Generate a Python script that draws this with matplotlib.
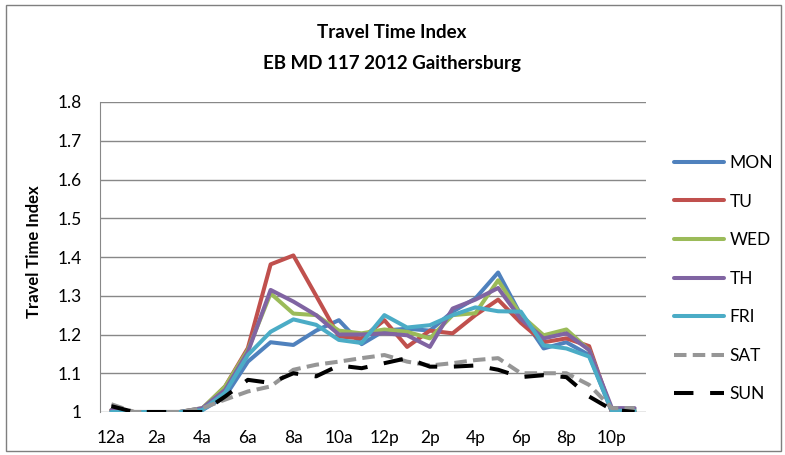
"""
Travel Time Index by hour of day, EB MD 117 2012 Gaithersburg.
Rough recreation of the Excel line chart with matplotlib.
"""

import numpy as np
import matplotlib
matplotlib.use("Agg")
import matplotlib.pyplot as plt
from matplotlib.patches import Rectangle


# ---- Data
hours = ["12a", "1a", "2a", "3a", "4a", "5a", "6a", "7a", "8a", "9a", "10a", "11a",
         "12p", "1p", "2p", "3p", "4p", "5p", "6p", "7p", "8p", "9p", "10p", "11p"]

mon = [1.00, 1.00, 1.00, 1.00, 1.005, 1.04, 1.13, 1.18, 1.173, 1.21, 1.237, 1.175,
       1.21, 1.215, 1.21, 1.259, 1.293, 1.36, 1.25, 1.164, 1.18, 1.147, 1.00, 1.00]
tu = [1.005, 1.00, 1.00, 1.00, 1.008, 1.066, 1.165, 1.381, 1.404, 1.30, 1.195, 1.19,
      1.237, 1.168, 1.21, 1.203, 1.25, 1.29, 1.23, 1.18, 1.19, 1.17, 1.00, 1.00]
wed = [1.005, 1.00, 1.00, 1.00, 1.01, 1.066, 1.16, 1.306, 1.254, 1.25, 1.21, 1.203,
       1.213, 1.207, 1.19, 1.25, 1.255, 1.34, 1.25, 1.198, 1.213, 1.16, 1.005, 1.005]
th = [1.005, 1.00, 1.00, 1.00, 1.01, 1.057, 1.155, 1.315, 1.285, 1.25, 1.20, 1.20,
      1.203, 1.198, 1.168, 1.267, 1.29, 1.32, 1.24, 1.19, 1.203, 1.16, 1.01, 1.01]
fri = [1.00, 1.00, 1.00, 1.00, 1.005, 1.05, 1.147, 1.207, 1.239, 1.225, 1.186, 1.178,
       1.25, 1.218, 1.224, 1.25, 1.27, 1.26, 1.259, 1.172, 1.164, 1.143, 1.003, 1.003]
sat = [1.02, 1.00, 1.00, 1.00, 1.01, 1.032, 1.053, 1.066, 1.109, 1.122, 1.13, 1.139,
       1.147, 1.13, 1.12, 1.126, 1.134, 1.139, 1.10, 1.10, 1.10, 1.07, 1.01, 1.01]
sun = [1.015, 1.00, 1.00, 1.00, 1.00, 1.04, 1.083, 1.075, 1.10, 1.092, 1.12, 1.113,
       1.126, 1.139, 1.117, 1.117, 1.12, 1.109, 1.09, 1.095, 1.09, 1.04, 1.006, 1.00]

days = ["MON", "TU", "WED", "TH", "FRI", "SAT", "SUN"]
values = [mon, tu, wed, th, fri, sat, sun]
colors = ["#4F81BD", "#C0504D", "#9BBB59", "#8064A2", "#4BACC6", "#969696", "#000000"]
styles = ["-", "-", "-", "-", "-", (0, (9, 4.5)), (0, (14, 12))]

ticks = list(range(0, 24, 2))
tick_labels = hours[::2][:12]


# ---- Plot
plt.rcParams["font.family"] = ["Lato", "DejaVu Sans"]
plt.rcParams["lines.scale_dashes"] = False

fig = plt.figure(figsize=(7.85, 4.55), dpi=100)
ax = fig.add_axes([100/785, 1 - 412/455, 546/785, 310/455])

x = np.arange(len(hours))
for d, v, c, s in zip(days, values, colors, styles):
    ax.plot(x, v, color=c, lw=2.9, linestyle=s, label=d,
            solid_capstyle="round", solid_joinstyle="round")

ax.set_xlim(-0.5, 23.5)
ax.set_ylim(1.0, 1.8)
ax.set_yticks(np.arange(1.0, 1.81, 0.1))
ax.set_yticklabels(["1", "1.1", "1.2", "1.3", "1.4", "1.5", "1.6", "1.7", "1.8"])
ax.set_xticks(ticks)
ax.set_xticklabels(tick_labels)
ax.tick_params(axis="both", length=0, labelsize=12.5, colors="#000000")
ax.tick_params(axis="x", pad=13)
ax.tick_params(axis="y", pad=13)
ax.grid(axis="y", color="#888888", lw=1)
ax.set_axisbelow(True)
for side in ["top", "right", "bottom"]:
    ax.spines[side].set_visible(False)
ax.spines["left"].set_color("#888888")

ax.set_ylabel("Travel Time Index", fontsize=12, fontweight="bold")
ax.yaxis.set_label_coords(-0.106, 0.516)

fig.text(392/785, 1 - 33/455, "Travel Time Index", ha="center", va="center",
         fontsize=13.5, fontweight="bold")
fig.text(392/785, 1 - 63/455, "EB MD 117 2012 Gaithersburg", ha="center",
         va="center", fontsize=13.5, fontweight="bold")

fig.legend(loc="upper left", bbox_to_anchor=(674/785, 1 - 155/455), frameon=False,
           fontsize=12.5, handlelength=2.9, handletextpad=0.3, labelspacing=1.3,
           borderpad=0, borderaxespad=0)

fig.patches.append(Rectangle((6/785, 4/455), 775/785, 446/455, transform=fig.transFigure,
                             fill=False, edgecolor="#7f7f7f", lw=1))

fig.savefig("out.png", dpi=100)
